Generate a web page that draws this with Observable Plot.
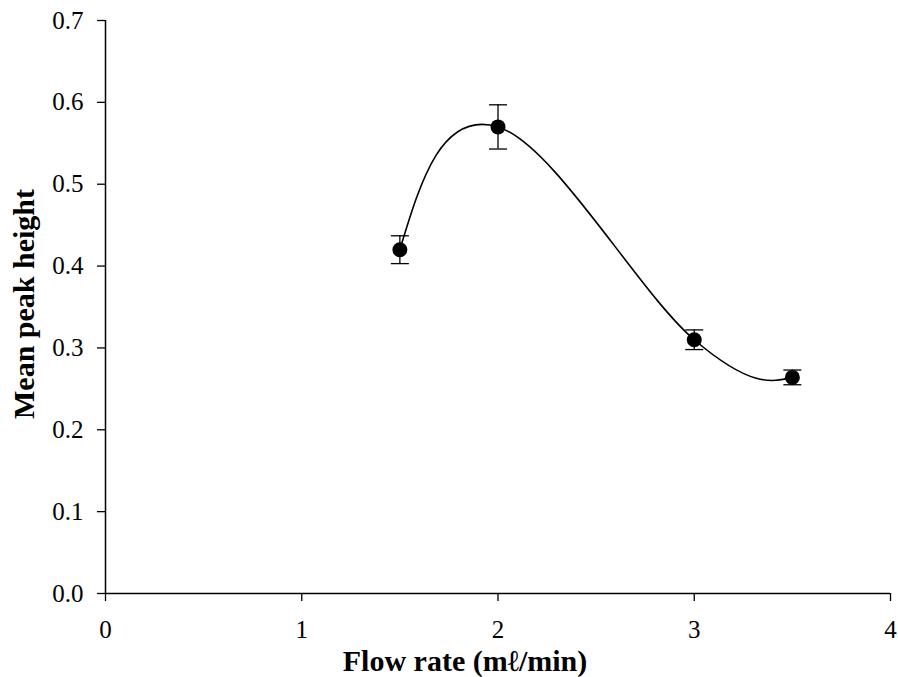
<!DOCTYPE html>
<html>
<head>
<meta charset="utf-8">
<script src="https://cdn.jsdelivr.net/npm/d3@7"></script>
<script src="https://cdn.jsdelivr.net/npm/@observablehq/plot@0.6"></script>
<style>
  html, body { margin: 0; padding: 0; background: #fff; }
  #chart svg { display: block; }
  #chart svg text { font-family: 'Liberation Serif', 'Times New Roman', serif; }
</style>
</head>
<body>
<div id="chart"></div>
<script>
// ---- data ----
const flowRate   = [1.5, 2, 3, 3.5];
const peakHeight = [0.42, 0.57, 0.31, 0.264];
const errorBar   = [0.017, 0.027, 0.012, 0.009];
const xTicks = [0, 1, 2, 3, 4];
const yTicks = [0, 0.1, 0.2, 0.3, 0.4, 0.5, 0.6, 0.7];
const xTitle = "Flow rate (mℓ/min)";
const yTitle = "Mean peak height";

const rows = flowRate.map((x, i) => ({x, y: peakHeight[i], e: errorBar[i]}));

const serif = "'Liberation Serif', 'Times New Roman', serif";

// Excel-style smoothed line (Bezier through points)
function smoothCurve(context) {
  let pts;
  return {
    areaStart() {}, areaEnd() {},
    lineStart() { pts = []; },
    point(x, y) { pts.push([+x, +y]); },
    lineEnd() {
      const n = pts.length;
      if (!n) return;
      context.moveTo(pts[0][0], pts[0][1]);
      if (n === 2) { context.lineTo(pts[1][0], pts[1][1]); return; }
      const f = 0.19, k = 0.5;
      const tan = pts.map((p, i) => (i === 0 || i === n - 1) ? null :
        [(pts[i + 1][0] - pts[i - 1][0]) * f, (pts[i + 1][1] - pts[i - 1][1]) * f]);
      for (let i = 0; i < n - 1; i++) {
        const p1 = pts[i], p2 = pts[i + 1];
        let b1 = tan[i] ? [p1[0] + tan[i][0], p1[1] + tan[i][1]] : null;
        let b2 = tan[i + 1] ? [p2[0] - tan[i + 1][0], p2[1] - tan[i + 1][1]] : null;
        if (!b1) b1 = [p1[0] + (b2[0] - p1[0]) * k, p1[1] + (b2[1] - p1[1]) * k];
        if (!b2) b2 = [p2[0] + (b1[0] - p2[0]) * k, p2[1] + (b1[1] - p2[1]) * k];
        context.bezierCurveTo(b1[0], b1[1], b2[0], b2[1], p2[0], p2[1]);
      }
    }
  };
}

const capSymbol = {
  draw(context, size) {
    const r = Math.sqrt(size / Math.PI);
    context.moveTo(-r, 0);
    context.lineTo(r, 0);
  }
};

const chart = Plot.plot({
  width: 898,
  height: 677,
  marginLeft: 105,
  marginRight: 8,
  marginTop: 20,
  marginBottom: 84,
  style: {fontFamily: serif, fontSize: "25px", color: "#000", background: "#fff"},
  x: {domain: [0, 4]},
  y: {domain: [0, 0.7]},
  marks: [
    Plot.axisY(yTicks, {tickSize: 8, tickPadding: 14, tickFormat: d => d.toFixed(1), fontSize: 25, fontFamily: serif, fontVariant: "normal", strokeWidth: 1.3, label: null}),
    Plot.axisX(xTicks, {tickSize: 8, tickPadding: 19, tickFormat: d => String(d), fontSize: 25, fontFamily: serif, fontVariant: "normal", strokeWidth: 1.3, label: null}),
    Plot.ruleY([0], {stroke: "#000", strokeWidth: 1.5}),
    Plot.ruleX([0], {stroke: "#000", strokeWidth: 1.5}),
    Plot.line(rows, {x: "x", y: "y", curve: smoothCurve, stroke: "#000", strokeWidth: 1.6}),
    Plot.ruleX(rows, {x: "x", y1: d => d.y - d.e, y2: d => d.y + d.e, stroke: "#000", strokeWidth: 1.3}),
    Plot.dot(rows, {x: "x", y: d => d.y + d.e, r: 9, symbol: capSymbol, stroke: "#000", strokeWidth: 1.3, fill: "none"}),
    Plot.dot(rows, {x: "x", y: d => d.y - d.e, r: 9, symbol: capSymbol, stroke: "#000", strokeWidth: 1.3, fill: "none"}),
    Plot.dot(rows, {x: "x", y: "y", r: 7.5, fill: "#000", stroke: "none"}),
    Plot.text([xTitle], {text: d => d, frameAnchor: "bottom", textAnchor: "middle", dx: -33, dy: 77, lineAnchor: "bottom", fontSize: 30, fontWeight: "bold", fontFamily: serif, fill: "#000"}),
    Plot.text([yTitle], {text: d => d, frameAnchor: "left", textAnchor: "middle", rotate: -90, dx: -72, dy: -3, lineAnchor: "bottom", fontSize: 30, fontWeight: "bold", fontFamily: serif, fill: "#000"})
  ]
});
document.getElementById("chart").appendChild(chart);
</script>
</body>
</html>
